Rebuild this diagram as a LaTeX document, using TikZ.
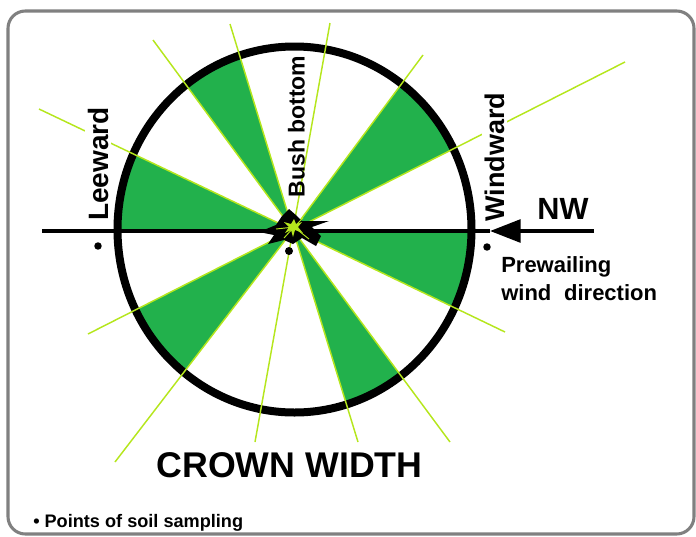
\documentclass[tikz,border=0pt]{standalone}
\usepackage{fontspec}
\setmainfont{Liberation Sans}
\usetikzlibrary{arrows.meta}
\definecolor{wedgegreen}{RGB}{34,177,76}
\definecolor{raylime}{RGB}{181,230,29}
\definecolor{framegray}{RGB}{128,128,128}
\begin{document}
\begin{tikzpicture}[x=0.75pt,y=-0.75pt,
  lbl/.style={text=black, inner sep=0pt},
  raystyle/.style={draw=raylime, line width=1.1pt},
  wedgestyle/.style={fill=wedgegreen},
  ring/.style={draw=black, line width=6pt},
  axisline/.style={draw=black, line width=3pt},
  dotstyle/.style={fill=black}]
\useasboundingbox (0,0) rectangle (696,536);
% frame
\draw[framegray, line width=2.3pt, rounded corners=13pt] (8,11) rectangle (694,534);
% coordinates
\coordinate (O) at (293,230);
\coordinate (E) at (294.5,229.5);
\coordinate (r27a) at (625,62);  \coordinate (r27b) at (88,334);
\coordinate (r54a) at (423,55);  \coordinate (r54b) at (115,462);
\coordinate (r80a) at (330,23);  \coordinate (r80b) at (255,442);
\coordinate (r107a) at (230,24); \coordinate (r107b) at (358,442);
\coordinate (r127a) at (153,40); \coordinate (r127b) at (450,442);
\coordinate (r155a) at (39,109); \coordinate (r155b) at (505,332);
\coordinate (hl) at (42,231);    \coordinate (hr) at (600,231);
\coordinate (tip) at (490,231);  \coordinate (tail) at (594,231);
% wedges
\begin{scope}
\clip (E) ellipse [x radius=177, y radius=183];
\fill[wedgestyle] (O) -- (r107a) -- (r127a) -- cycle;
\fill[wedgestyle] (O) -- (r27a) -- (r54a) -- cycle;
\fill[wedgestyle] (O) -- (r155a) -- (hl) -- cycle;
\fill[wedgestyle] (O) -- (hr) -- (r155b) -- cycle;
\fill[wedgestyle] (O) -- (r107b) -- (r127b) -- cycle;
\fill[wedgestyle] (O) -- (r27b) -- (r54b) -- cycle;
\end{scope}
% horizontal axis
\draw[axisline] (hl) -- (tip);
% ring
\draw[ring] (E) ellipse [x radius=177, y radius=183];
% rays
\foreach \a in {r27a,r27b,r54a,r54b,r80a,r80b,r107a,r107b,r127a,r127b,r155a,r155b}
  \draw[raystyle] (O) -- (\a);
% wind arrow
\draw[axisline, -{Triangle[length=23pt,width=17pt]}] (tail) -- (tip);
% bush glyph
\fill[black] (289,209) -- (297,216) -- (302,221) -- (329,221) -- (312,227) -- (321,236)
  -- (316,246) -- (302,238) -- (293,244) -- (284,240) -- (268,244) -- (274,235)
  -- (259,232) -- (276,225) -- (282,216) -- cycle;
\fill[raylime] (294,219) -- (296,224) -- (302,222) -- (298,227) -- (303,233) -- (295,230)
  -- (293,237) -- (291,230) -- (285,233) -- (289,227) -- (284,222) -- (291,224) -- cycle;
\draw[raylime, line width=0.7pt] (294,227) -- (284,238);
\draw[raylime, line width=0.7pt] (294,227) -- (309,239);
\draw[raylime, line width=0.7pt] (294,227) -- (303,218);
\draw[raylime, line width=0.7pt] (294,227) -- (276,229);
% dots
\fill[dotstyle] (98,246) circle [radius=2.8pt];
\fill[dotstyle] (487,247) circle [radius=2.8pt];
\fill[dotstyle] (289,251) circle [radius=3pt];
% labels
\node[lbl, rotate=90, fill=white, inner sep=2pt, font=\bfseries\fontsize{21}{21}\selectfont] (leeward) at (98,164) {Leeward};
\node[lbl, rotate=90, font=\bfseries\fontsize{17.25}{17.25}\selectfont] (bush) at (296.5,126.5) {Bush bottom};
\node[lbl, rotate=90, fill=white, inner sep=2pt, font=\bfseries\fontsize{20.25}{20.25}\selectfont] (windward) at (494.5,157) {Windward};
\node[lbl, font=\bfseries\fontsize{23}{23}\selectfont] (nw) at (563,209) {NW};
\node[lbl, anchor=base west, font=\bfseries\fontsize{16.5}{16.5}\selectfont] (prew) at (501,272) {Prewailing};
\node[lbl, anchor=base west, font=\bfseries\fontsize{16.5}{16.5}\selectfont] (winddir) at (501,300) {wind\hspace{5pt} direction};
\node[lbl, anchor=base, font=\bfseries\fontsize{26.8}{26.8}\selectfont] (crown) at (289.5,477) {CROWN WIDTH};
\node[lbl, anchor=base west, font=\bfseries\fontsize{13.6}{13.6}\selectfont] (legend) at (33,527) {• Points of soil sampling};
\end{tikzpicture}
\end{document}
